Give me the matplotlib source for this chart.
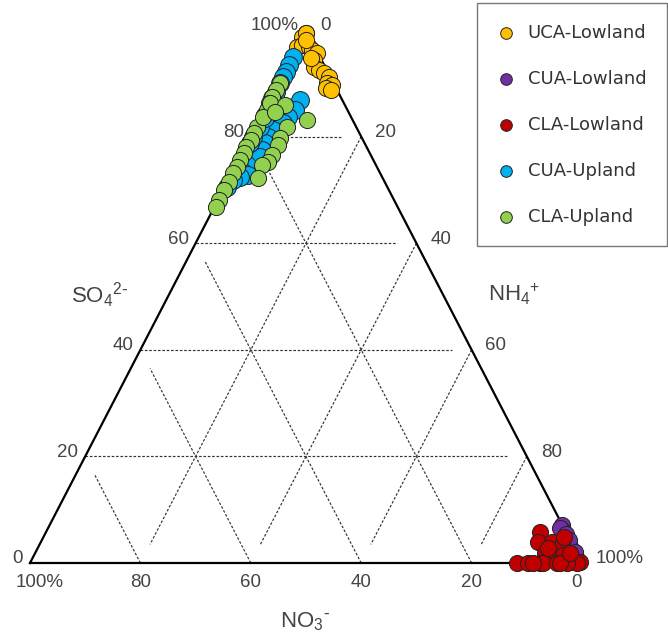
import numpy as np
import matplotlib
matplotlib.use("Agg")
import matplotlib.pyplot as plt

# ternary composition (%), NO3- = 100 - SO4 - NH4
uca_low_so4 = [99.5, 99.0, 98.7, 99.4, 96.8, 97.2, 96.8, 96.2, 95.7, 94.4, 93.1, 92.5, 91.9, 91.2, 90.1, 89.7, 89.1, 88.7, 98.1, 94.7]
uca_low_nh4 = [0.3, 0.3, 0.0, 0.3, 0.0, 0.7, 2.1, 3.0, 4.1, 4.2, 4.9, 6.1, 7.3, 8.6, 8.8, 9.9, 9.1, 10.2, 1.0, 3.6]

cua_low_so4 = [7.1, 6.2, 4.9, 3.8, 2.4, 1.1, 0.6, 1.0, 6.6, 3.0, 0.3, 5.5, 4.3, 2.0]
cua_low_nh4 = [92.9, 93.3, 94.6, 95.7, 96.9, 98.4, 98.8, 97.3, 92.7, 96.2, 99.2, 94.3, 95.5, 97.8]

cla_low_so4 = [5.8, 3.9, 3.9, 3.4, 4.9, 1.9, 1.9, 1.1, 1.5, 0.0, 0.0, 0.0, 0.0, 0.0, 0.2, 0.2, 0.0, 0.0, 0.0, 1.9, 2.8, 0.0]
cla_low_nh4 = [89.5, 90.1, 92.6, 94.7, 94.3, 92.3, 93.2, 94.9, 95.8, 88.2, 90.2, 92.4, 92.9, 95.5, 97.7, 99.5, 99.1, 97.3, 96.0, 96.9, 92.4, 91.1]

cua_up_so4 = [94.9, 93.4, 92.1, 91.2, 90.1, 88.4, 87.2, 86.9, 85.0, 83.7, 82.6, 81.2, 79.9, 78.8, 77.5, 76.2,
              74.7, 73.4, 72.8, 72.4, 71.9, 70.5, 78.8, 79.9, 81.8, 83.5]
cua_up_nh4 = [0.2, 0.3, 0.3, 0.3, 0.2, 0.3, 0.2, 5.4, 5.5, 4.9, 4.5, 3.4, 3.2, 3.2, 3.3, 3.6,
              2.0, 1.9, 3.1, 1.8, 0.8, 0.5, 0.5, 0.4, 0.8, 0.8]

cla_up_so4 = [90.1, 88.7, 87.4, 86.3, 84.1, 85.0, 81.8, 80.7, 79.4, 78.0, 76.9, 75.6, 74.3, 73.2, 71.5, 70.0, 68.1, 66.8,
              86.3, 83.7, 85.9, 84.6, 83.1, 81.8, 79.7, 78.4, 76.5, 75.2, 74.7, 72.2]
cla_up_nh4 = [0.3, 0.3, 0.2, 0.2, 0.3, 0.4, 0.3, 0.2, 0.3, 0.2, 0.3, 0.2, 0.3, 0.2, 0.3, 0.2, 0.2, 0.3,
              0.3, 0.3, 3.3, 2.1, 8.6, 5.7, 5.5, 5.7, 5.6, 5.5, 4.7, 5.2]

groups = ["UCA-Lowland", "CUA-Lowland", "CLA-Lowland", "CUA-Upland", "CLA-Upland"]
colors = ["#FFC000", "#7030A0", "#C00000", "#00B0F0", "#92D050"]
sizes = [135, 135, 135, 165, 135]
series = [(uca_low_so4, uca_low_nh4), (cua_low_so4, cua_low_nh4), (cla_low_so4, cla_low_nh4),
          (cua_up_so4, cua_up_nh4), (cla_up_so4, cla_up_nh4)]

grid_vals = [20, 40, 60, 80]
tick_vals = [0, 20, 40, 60, 80, 100]


def to_xy(so4, nh4):
    # SO4 at the top, NH4 bottom-right, NO3 bottom-left
    so4 = np.asarray(so4) / 100.0
    nh4 = np.asarray(nh4) / 100.0
    return nh4 + 0.5 * so4, so4


fig = plt.figure(figsize=(6.68, 6.35), dpi=100)
ax = fig.add_axes([30 / 668, 72 / 635, 552 / 668, 533 / 635])
ax.set_xlim(0, 1)
ax.set_ylim(0, 1)
ax.axis("off")

txt_col = "#444444"
tick_font = "Liberation Sans"

# grid lines, each one stops a bit short of the far side
gap = 3.5
dash = dict(ls=(0, (2.2, 1.5)), lw=0.85, color="#333333")
for c in grid_vals:
    # SO4 constant
    x, y = to_xy([c, c], [0, 100 - c - gap])
    ax.plot(x, y, **dash)
    # NH4 constant
    x, y = to_xy([100 - c, gap], [c, c])
    ax.plot(x, y, **dash)
    # NO3 constant
    x, y = to_xy([0, 100 - c - gap], [100 - c, gap])
    ax.plot(x, y, **dash)

# triangle
x, y = to_xy([0, 100, 0, 0], [0, 0, 100, 0])
ax.plot(x, y, color="black", lw=1.6, solid_joinstyle="miter", clip_on=False)

# tick labels
for v in tick_vals:
    lab = "100%" if v == 100 else str(v)
    # SO4 on the left side
    x, y = to_xy([v], [0])
    ax.annotate(lab, (x[0], y[0]), xytext=(-5, 3), textcoords="offset points",
                ha="right", va="center", fontsize=13.5, color=txt_col, family=tick_font)
    # NH4 on the right side
    x, y = to_xy([100 - v], [v])
    ax.annotate(lab, (x[0], y[0]), xytext=(10, 3), textcoords="offset points",
                ha="left", va="center", fontsize=13.5, color=txt_col, family=tick_font)
    # NO3 along the bottom
    x, y = to_xy([0], [100 - v])
    dx = 7 if v == 100 else (-4 if v == 0 else 0)
    ax.annotate(lab, (x[0], y[0]), xytext=(dx, -14), textcoords="offset points",
                ha="center", va="center", fontsize=13.5, color=txt_col, family=tick_font)

# axis titles
ax.text(0.127, 0.503, r"$\mathregular{SO_4{}^{2\text{-}}}$", ha="center", va="center",
        fontsize=16, color=txt_col, family=tick_font)
ax.text(0.877, 0.503, r"$\mathregular{NH_4{}^{+}}$", ha="center", va="center",
        fontsize=16, color=txt_col, family=tick_font)
ax.text(0.498, -0.111, r"$\mathregular{NO_3{}^{\text{-}}}$", ha="center", va="center",
        fontsize=16, color=txt_col, family=tick_font)

# points
for name, col, sz, (so4, nh4) in zip(groups, colors, sizes, series):
    x, y = to_xy(so4, nh4)
    ax.scatter(x, y, s=sz, color=col, edgecolor="#222222", linewidth=0.7,
               label=name, clip_on=False, zorder=3)

leg = fig.legend(loc="upper right", bbox_to_anchor=(667 / 668, 1 - 3 / 635),
                 borderaxespad=0, frameon=True, fancybox=False, labelspacing=1.55,
                 borderpad=1.15, handlelength=0.9, handletextpad=0.75, markerscale=0.72,
                 prop={"family": "DejaVu Sans", "size": 13})
leg.get_frame().set_edgecolor("#555555")
leg.get_frame().set_linewidth(1.0)
for h in leg.legend_handles:
    h.set_sizes([70])
for t in leg.get_texts():
    t.set_color("#333333")

fig.savefig("out.png", dpi=100)
